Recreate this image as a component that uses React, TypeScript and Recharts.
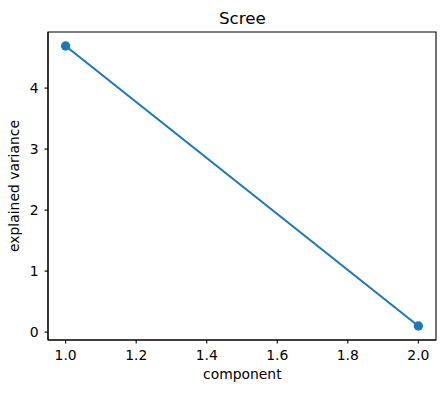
import React from "react";
import { LineChart, Line, XAxis, YAxis, ReferenceArea } from "recharts";

const components = [1, 2];
const explainedVariance = [4.69, 0.1];
const xTicks = [1.0, 1.2, 1.4, 1.6, 1.8, 2.0];
const yTicks = [0, 1, 2, 3, 4];

const data = components.map((c, i) => ({ component: c, variance: explainedVariance[i] }));

const FONT = "DejaVu Sans, sans-serif";
const BLUE = "#1f77b4";
const X_DOMAIN: [number, number] = [0.95, 2.05];
const Y_DOMAIN: [number, number] = [-0.1295, 4.9195];
const tickStyle = { fill: "#000", fontSize: 13.9, fontFamily: FONT };

export default function App() {
  return (
    <div style={{ position: "absolute", left: 0, top: 0, background: "#fff" }}>
      <LineChart
        width={445}
        height={393}
        data={data}
        margin={{ top: 32, right: 9, bottom: 23, left: 0 }}
      >
        <XAxis
          dataKey="component"
          type="number"
          domain={X_DOMAIN}
          ticks={xTicks}
          tickFormatter={(v: number) => v.toFixed(1)}
          allowDataOverflow
          height={30}
          tick={tickStyle}
          tickSize={3.5}
          tickMargin={7}
          axisLine={{ stroke: "#000", strokeWidth: 1.1 }}
          tickLine={{ stroke: "#000", strokeWidth: 1.1 }}
        />
        <YAxis
          type="number"
          domain={Y_DOMAIN}
          ticks={yTicks}
          allowDataOverflow
          width={48}
          tick={tickStyle}
          tickSize={3.5}
          tickMargin={6}
          axisLine={{ stroke: "#000", strokeWidth: 1.1 }}
          tickLine={{ stroke: "#000", strokeWidth: 1.1 }}
        />
        {/* frame around the plot area */}
        <ReferenceArea
          x1={X_DOMAIN[0]}
          x2={X_DOMAIN[1]}
          y1={Y_DOMAIN[0]}
          y2={Y_DOMAIN[1]}
          fill="none"
          fillOpacity={0}
          stroke="#000"
          strokeWidth={1.1}
          strokeOpacity={1}
        />
        <Line
          dataKey="variance"
          stroke={BLUE}
          strokeWidth={2.08}
          dot={{ r: 4.7, fill: BLUE, stroke: "none" }}
          activeDot={false}
          isAnimationActive={false}
        />
        <text x={242.3} y={24} textAnchor="middle" fontSize={16.7} fontFamily={FONT} fill="#000">
          Scree
        </text>
        <text x={242.3} y={379} textAnchor="middle" fontSize={13.9} fontFamily={FONT} fill="#000">
          component
        </text>
        <text
          x={19}
          y={186}
          textAnchor="middle"
          fontSize={13.9}
          fontFamily={FONT}
          fill="#000"
          transform="rotate(-90, 19, 186)"
        >
          explained variance
        </text>
      </LineChart>
    </div>
  );
}
